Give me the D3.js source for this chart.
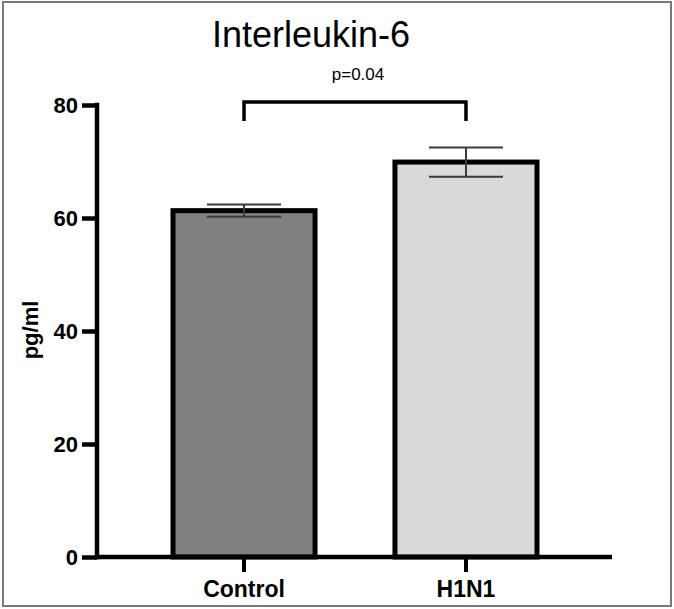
<!DOCTYPE html>
<html>
<head>
<meta charset="utf-8">
<script src="https://cdn.jsdelivr.net/npm/d3@7"></script>
<style>
  body { margin: 0; background: #fff; }
  svg text { font-family: "Liberation Sans", Arial, sans-serif; }
</style>
</head>
<body>
<div id="chart"></div>
<script>
// data
var categories = ["Control", "H1N1"];
var means = [61.3, 69.9];
var sems = [1.1, 2.6];
var fills = ["#808080", "#d9d9d9"];
var yTicks = [0, 20, 40, 60, 80];
var pText = "p=0.04";

var w = 674, h = 609;

var svg = d3.select("#chart")
	.append("svg")
	.attr("width", w)
	.attr("height", h);

// outer frame
svg.append("rect")
	.attr("x", 3).attr("y", 2)
	.attr("width", 668).attr("height", 604)
	.attr("fill", "none")
	.attr("stroke", "#7a7a7a")
	.attr("stroke-width", 2);

var y = d3.scaleLinear()
	.domain([0, 80])
	.range([557, 105]);

var x = d3.scaleBand()
	.domain(categories)
	.range([173, 537])
	.paddingInner(0.36)
	.paddingOuter(0);

// title
svg.append("text")
	.attr("x", 311)
	.attr("y", 47)
	.attr("text-anchor", "middle")
	.attr("font-size", 36)
	.text("Interleukin-6");

// bars
svg.selectAll("rect.bar")
	.data(categories)
	.enter()
	.append("rect")
	.attr("class", "bar")
	.attr("x", function (d) { return x(d); })
	.attr("y", function (d, i) { return y(means[i]); })
	.attr("width", x.bandwidth())
	.attr("height", function (d, i) { return y(0) - y(means[i]); })
	.attr("fill", function (d, i) { return fills[i]; })
	.attr("stroke", "#000")
	.attr("stroke-width", 5);

// error bars
var capHalf = 37;
var err = svg.selectAll("g.err")
	.data(categories)
	.enter()
	.append("g")
	.attr("class", "err")
	.attr("stroke", "#3a3a3a")
	.attr("stroke-width", 2);

err.append("line")
	.attr("x1", function (d) { return x(d) + x.bandwidth() / 2; })
	.attr("x2", function (d) { return x(d) + x.bandwidth() / 2; })
	.attr("y1", function (d, i) { return y(means[i] - sems[i]); })
	.attr("y2", function (d, i) { return y(means[i] + sems[i]); });

[1, -1].forEach(function (s) {
	err.append("line")
		.attr("x1", function (d) { return x(d) + x.bandwidth() / 2 - capHalf; })
		.attr("x2", function (d) { return x(d) + x.bandwidth() / 2 + capHalf; })
		.attr("y1", function (d, i) { return y(means[i] + s * sems[i]); })
		.attr("y2", function (d, i) { return y(means[i] + s * sems[i]); });
});

// y axis
var yAxis = svg.append("g")
	.attr("transform", "translate(97,0)")
	.call(d3.axisLeft(y).tickValues(yTicks).tickSize(15).tickPadding(4));
yAxis.select(".domain").attr("d", "M0," + y(80) + "V" + y(0)).attr("stroke-width", 4.5).attr("stroke-linecap", "square");
yAxis.selectAll(".tick line").attr("stroke-width", 4.5);
yAxis.selectAll(".tick text")
	.attr("font-size", 22)
	.attr("font-weight", "bold")
	.attr("fill", "#000")
	.attr("font-family", "Liberation Sans, Arial, sans-serif");

// x axis
var xAxis = svg.append("g")
	.attr("transform", "translate(0," + y(0) + ")")
	.call(d3.axisBottom(x).tickSize(15).tickPadding(9));
xAxis.select(".domain").attr("d", "M95,0H612").attr("stroke-width", 4.5);
xAxis.selectAll(".tick line").attr("stroke-width", 4);
xAxis.selectAll(".tick text")
	.attr("font-size", 23)
	.attr("font-weight", "bold")
	.attr("fill", "#000")
	.attr("font-family", "Liberation Sans, Arial, sans-serif");

// y label
svg.append("text")
	.attr("transform", "translate(38,330) rotate(-90)")
	.attr("text-anchor", "middle")
	.attr("font-size", 22)
	.attr("font-weight", "bold")
	.text("pg/ml");

// significance bracket
var x0 = x(categories[0]) + x.bandwidth() / 2;
var x1 = x(categories[1]) + x.bandwidth() / 2;
svg.append("path")
	.attr("d", "M" + x0 + ",121V102H" + x1 + "V121")
	.attr("fill", "none")
	.attr("stroke", "#000")
	.attr("stroke-width", 3.5);

svg.append("text")
	.attr("x", 358)
	.attr("y", 80)
	.attr("text-anchor", "middle")
	.attr("font-size", 17)
	.text(pText);
</script>
</body>
</html>
